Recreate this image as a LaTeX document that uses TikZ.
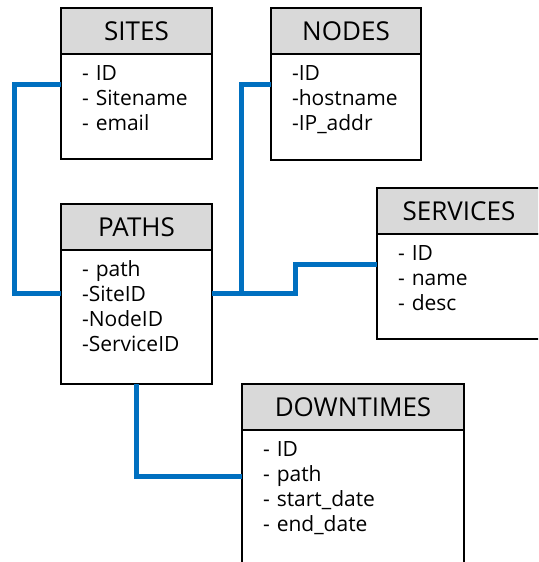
\documentclass[tikz,border=0pt]{standalone}
\usepackage{fontspec}
\setmainfont{Open Sans}
\usetikzlibrary{positioning}
\definecolor{headgray}{HTML}{D9D9D9}
\definecolor{linkblue}{HTML}{0070C0}

\begin{document}
\begin{tikzpicture}[x=1pt, y=-1pt,
		tblhead/.style = {shape=rectangle, draw, line width=1.5pt, outer sep=0pt,
			fill=headgray, anchor=north west, inner sep=0pt,
			minimum width=#1, minimum height=46pt,
			font=\fontsize{26}{30}\selectfont},
		tblbody/.style 2 args = {shape=rectangle, draw, line width=1.5pt, outer sep=0pt,
			fill=white, align=left, inner ysep=0pt, inner xsep=21pt,
			text width=#1, text height=26pt, text depth=#2,
			font=\fontsize{21}{25}\selectfont},
		link/.style = {draw=linkblue, line width=5pt}]

	\useasboundingbox (0,0) rectangle (538,562);
	\clip (0,0) rectangle (538,562);

	\node[tblhead=151pt] (sites) at (61,8) {SITES};
	\node[tblbody={109pt}{79pt}, below=0pt of sites] (sitesbody) {- ID\\- Sitename\\- email};

	\node[tblhead=150pt] (nodes) at (271,8) {NODES};
	\node[tblbody={108pt}{80pt}, below=0pt of nodes] (nodesbody) {-ID\\-hostname\\-IP\_addr};

	\node[tblhead=151pt] (paths) at (61,204) {PATHS};
	\node[tblbody={109pt}{108pt}, below=0pt of paths] (pathsbody) {- path\\-SiteID\\-NodeID\\-ServiceID};

	\node[tblhead=164pt] (services) at (377,188) {SERVICES};
	\node[tblbody={122pt}{79pt}, below=0pt of services] (servicesbody) {- ID\\- name\\- desc};

	\node[tblhead=222pt] (downtimes) at (242,384) {DOWNTIMES};
	\node[tblbody={180pt}{150pt}, below=0pt of downtimes] (downtimesbody) {- ID\\- path\\- start\_date\\- end\_date};

	\draw[link] ([yshift=-30pt]sitesbody.north west) -- ++(-47,0) |- ([yshift=-43pt]pathsbody.north west);
	\draw[link] ([yshift=-30pt]nodesbody.north west) -- ++(-30,0) |- ([yshift=-43pt]pathsbody.north east);
	\draw[link] ([yshift=-43pt]pathsbody.north east) -- ++(83,0) |- ([yshift=-30pt]servicesbody.north west);
	\draw[link] (pathsbody.south) |- ([yshift=-46pt]downtimesbody.north west);
\end{tikzpicture}
\end{document}
